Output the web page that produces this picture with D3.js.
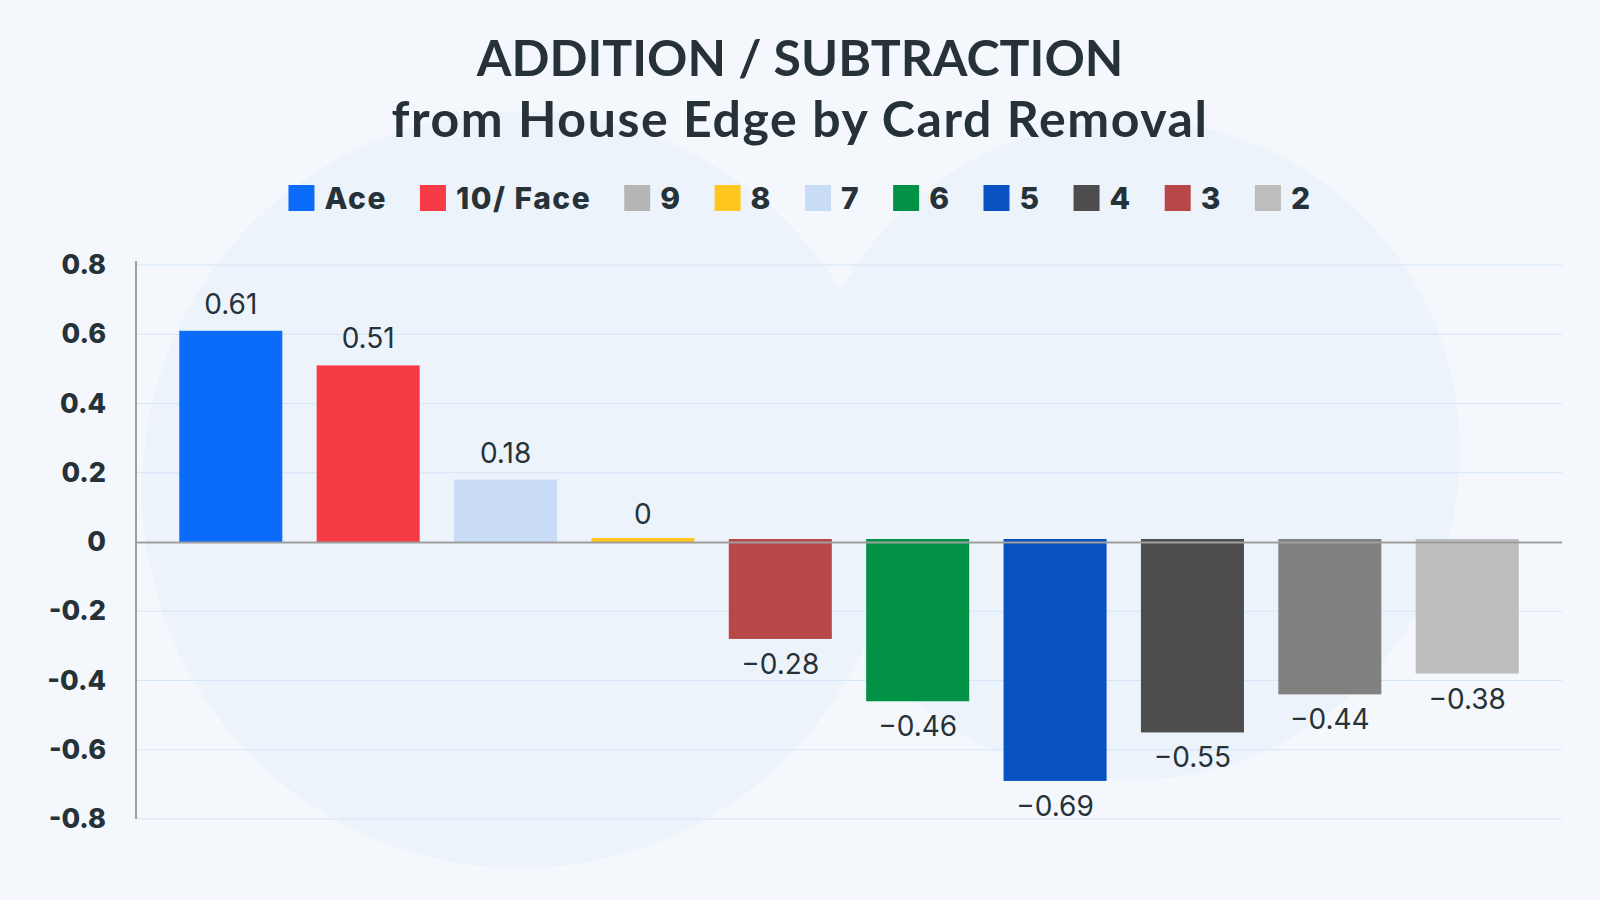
<!DOCTYPE html>
<html><head><meta charset="utf-8">
<script src="https://cdn.jsdelivr.net/npm/d3@7"></script>
<style>
html,body{margin:0;padding:0;background:#f4f8fc;}
svg{display:block;}
</style></head>
<body>
<svg id="chart" width="1600" height="900"></svg>
<script>
// ---- data ----
const titleLines = ["ADDITION / SUBTRACTION", "from House Edge by Card Removal"];
const legendLabels = ["Ace", "10/ Face", "9", "8", "7", "6", "5", "4", "3", "2"];
const legendColors = ["#0b6cfb", "#f73b46", "#b5b5b5", "#ffc61e", "#c9dcf5", "#019245", "#0950c0", "#4d4d4d", "#b84848", "#bdbdbd"];
const barCards  = ["Ace", "10/ Face", "7", "8", "3", "6", "5", "4", "9", "2"];
const barValues = [0.61, 0.51, 0.18, 0, -0.28, -0.46, -0.69, -0.55, -0.44, -0.38];
const barColors = ["#0b6cfb", "#f73b46", "#c9dcf5", "#ffc61e", "#b84848", "#019245", "#0950c0", "#4d4d4d", "#818181", "#bdbdbd"];
const yTicks = [0.8, 0.6, 0.4, 0.2, 0, -0.2, -0.4, -0.6, -0.8];
const yTickLabels = ["0.8", "0.6", "0.4", "0.2", "0", "-0.2", "-0.4", "-0.6", "-0.8"];

(function () {
const svg = d3.select("#chart");
const W = 1600, H = 900;
const textColor = "#263238";

// background decorations
svg.append("rect").attr("width", W).attr("height", H).attr("fill", "#f4f8fc");
svg.append("circle").attr("cx", 520).attr("cy", 490).attr("r", 378).attr("fill", "#edf3fb");
svg.append("circle").attr("cx", 1130).attr("cy", 450).attr("r", 330).attr("fill", "#edf3fb");

// title
svg.append("g").selectAll("text").data(titleLines).join("text")
  .attr("x", W / 2).attr("y", (d, i) => 76 + i * 61)
  .attr("text-anchor", "middle")
  .attr("font-family", "Lato, sans-serif").attr("font-weight", 700)
  .attr("font-size", 50).attr("fill", textColor)
  .attr("letter-spacing", (d, i) => i === 0 ? 0 : 1.6)
  .text(d => d);

// legend
const legend = svg.append("g");
const sq = 26, gapText = 10, gapItem = 33;
const items = legend.selectAll("g").data(legendLabels).join("g");
items.append("rect").attr("width", sq).attr("height", sq).attr("y", -sq / 2)
  .attr("fill", (d, i) => legendColors[i]);
items.append("text").attr("x", sq + gapText).attr("y", 0).attr("dy", "0.36em")
  .attr("font-family", "Inter, sans-serif").attr("font-weight", 800)
  .attr("font-size", 30).attr("letter-spacing", 1.5).attr("fill", textColor).text(d => d);
let xs = [], total = 0;
items.each(function (d, i) {
  const w = sq + gapText + this.querySelector("text").getComputedTextLength();
  xs.push(total); total += w + (i < legendLabels.length - 1 ? gapItem : 0);
});
const lx0 = W / 2 - total / 2;
items.attr("transform", (d, i) => `translate(${lx0 + xs[i]},198)`);

// scales
const pLeft = 136, pRight = 1562, pTop = 265, pBottom = 819;
const x = d3.scaleBand().domain(barCards).range([pLeft, pRight]).paddingInner(0.25).paddingOuter(0.315);
const y = d3.scaleLinear().domain([-0.8, 0.8]).range([pBottom, pTop]);

// gridlines
svg.append("g").selectAll("line").data(yTicks.filter(t => t !== 0)).join("line")
  .attr("x1", pLeft).attr("x2", pRight).attr("y1", d => y(d)).attr("y2", d => y(d))
  .attr("stroke", "#d5e5f8").attr("stroke-width", 1);

// y axis labels
const yAxis = d3.axisLeft(y).tickValues(yTicks).tickSize(0).tickPadding(0)
  .tickFormat((d, i) => yTickLabels[i]);
const ag = svg.append("g").attr("transform", `translate(${pLeft - 30},0)`).call(yAxis);
ag.select(".domain").remove();
ag.selectAll("text").attr("font-family", "Inter, sans-serif").attr("font-weight", 800)
  .attr("font-size", 27).attr("fill", textColor);

// bars
svg.append("g").selectAll("rect").data(barValues).join("rect")
  .attr("x", (d, i) => x(barCards[i]))
  .attr("width", x.bandwidth())
  .attr("y", d => d > 0 ? y(d) : (d === 0 ? y(0) - 4 : y(0) - 3))
  .attr("height", d => d > 0 ? y(0) - y(d) : (d === 0 ? 4 : y(d) - y(0) + 3))
  .attr("fill", (d, i) => barColors[i]);

// zero line and vertical axis
svg.append("line").attr("x1", pLeft).attr("x2", pRight).attr("y1", y(0) + 0.5).attr("y2", y(0) + 0.5)
  .attr("stroke", "#9e9e9e").attr("stroke-width", 2);
svg.append("line").attr("x1", pLeft).attr("x2", pLeft).attr("y1", pTop - 4).attr("y2", pBottom)
  .attr("stroke", "#9e9e9e").attr("stroke-width", 2);

// value labels
svg.append("g").selectAll("text").data(barValues).join("text")
  .attr("x", (d, i) => x(barCards[i]) + x.bandwidth() / 2)
  .attr("y", d => d >= 0 ? y(d) - (d === 0 ? 18 : 17) : y(d) + 35)
  .attr("text-anchor", "middle")
  .attr("font-family", "Inter, sans-serif").attr("font-weight", 400)
  .attr("font-size", 28).attr("fill", textColor)
  .text(d => d < 0 ? "\u2212" + String(Math.abs(d)) : String(d));
})();
</script>
</body></html>
